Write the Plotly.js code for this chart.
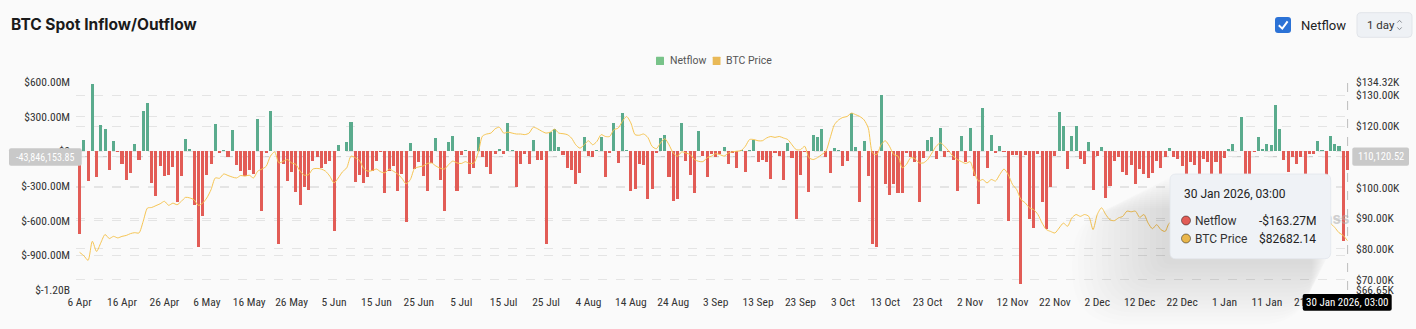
<!DOCTYPE html>
<html><head><meta charset="utf-8">
<script src="https://cdn.plot.ly/plotly-3.0.1.min.js"></script>
<style>html,body{margin:0;padding:0;background:#fafafa;}#chart{width:1416px;height:329px;}</style>
</head><body><div id="chart"></div>
<script>
// ---------------- DATA ----------------
const startDate = '2025-04-06T03:00:00Z';   // first daily bar, one bar per day to 30 Jan 2026
// Daily spot netflow, USD millions
const netflow = [
-715,101,-254,583,-219,231,193,-159,92,-5,
-110,-248,-185,63,-72,346,415,-274,-387,-124,
-211,-205,-138,-441,-216,107,17,-464,-831,-560,
-205,-110,237,-12,9,-52,188,-115,-167,-211,
-162,-196,280,-519,-14,346,5,-805,-110,-254,
-182,-355,-462,-312,-332,-87,-52,-145,-110,-87,
-689,55,5,78,257,-268,-205,-277,-225,-167,
-81,-8,-361,-167,-124,-340,-196,-614,72,-153,
-95,-211,-340,-104,115,-248,-514,84,130,-340,
-29,12,-196,-147,127,-52,-138,-196,-23,20,
-23,242,12,-312,-110,-23,-110,98,-75,-75,
-802,164,193,35,-32,-147,-162,-283,-185,121,
-43,-46,14,127,-225,-17,242,-104,329,14,
-340,-326,-110,-115,-413,-326,-14,113,141,-225,
-433,-413,245,-81,-205,-361,179,-38,-219,-23,
-52,-23,40,-110,-14,-147,12,-182,12,98,
-89,-75,-95,-239,-14,-38,-245,75,-58,-586,
-205,-10,-355,141,127,193,-52,-188,29,12,
-130,-87,329,40,-441,92,-211,-802,-825,490,
-283,-375,-283,-361,-361,-12,-52,-95,-436,-58,
98,121,-69,202,-52,-5,-75,-346,136,-95,
202,-216,-456,375,-147,138,-14,49,-3,-600,
-29,-29,-1148,-29,-586,-666,-23,-436,-672,-312,
-38,337,216,-153,136,222,-66,-110,78,-332,
-43,40,-404,-297,-87,-52,-176,-202,-118,-283,
-153,-196,-231,-188,-87,-147,-52,29,-52,-66,
-124,-260,-89,-115,-240,-66,-95,-230,-95,-250,
-61,20,63,3,294,-220,-220,-3,127,20,
63,58,401,193,-75,-182,-46,-110,-52,-210,
-23,-23,87,12,-220,136,63,49,-773,-163.27
];
// Daily BTC price, USD thousands
const btcPrice = [
78.9,77.8,76.3,82.5,79.2,82.0,84.7,83.4,84.1,83.6,
84.1,84.4,85.0,85.3,85.2,89.0,93.3,93.5,94.1,94.7,
95.5,94.2,94.9,94.4,95.5,96.8,96.6,96.0,94.2,94.9,
96.6,99.3,103.1,103.0,104.4,103.9,103.4,103.1,103.9,103.7,
104.0,103.1,105.3,106.0,106.9,110.2,111.6,108.0,108.5,109.1,
108.0,107.5,105.3,104.0,104.2,106.0,106.2,106.0,105.3,103.7,
101.5,103.1,105.1,106.4,110.2,109.7,108.8,106.2,105.3,105.5,
106.0,105.1,104.8,106.0,105.3,104.4,103.0,101.2,102.6,106.2,
106.7,107.0,107.8,108.0,107.0,106.3,106.0,107.4,108.6,108.0,
107.8,108.4,107.8,108.0,111.3,116.7,117.4,117.7,119.1,119.6,
117.7,118.0,117.7,117.4,117.4,117.2,117.7,119.6,119.1,118.3,
117.7,118.0,119.0,117.7,117.5,117.2,116.1,113.9,112.8,113.9,
115.2,113.9,115.0,117.2,116.6,116.6,118.8,119.3,121.5,123.1,
121.0,117.2,117.0,117.4,116.3,113.4,112.6,114.5,115.9,113.9,
111.2,110.2,111.6,111.2,110.7,109.1,108.5,108.4,109.7,110.2,
111.0,110.7,110.2,111.2,111.6,111.8,112.0,113.4,115.6,115.6,
115.2,115.2,116.1,116.6,116.3,116.6,116.1,115.6,113.9,112.3,
112.3,113.4,109.7,109.1,109.7,110.7,111.8,116.1,120.4,122.0,
122.8,123.1,124.2,123.7,123.1,122.0,119.3,111.2,110.7,113.9,
115.2,113.4,110.7,110.2,106.4,107.5,109.7,109.4,108.0,108.0,
109.1,111.2,113.4,114.5,113.4,111.8,110.2,109.1,108.4,107.8,
108.4,104.8,102.1,102.6,101.5,102.6,102.1,104.2,106.0,104.2,
101.0,99.3,96.1,95.0,93.4,92.8,91.2,88.4,86.3,85.7,
85.2,86.8,88.4,87.4,90.1,91.2,90.6,91.2,90.6,86.3,
91.2,93.4,91.2,89.5,89.2,90.1,90.6,92.3,92.1,92.3,
90.3,91.2,88.4,86.6,87.9,86.3,85.7,88.4,87.6,87.2,
87.9,88.4,87.5,87.1,87.8,87.3,87.9,88.2,87.7,87.5,
88.6,89.0,90.0,91.2,93.6,92.4,91.6,90.9,91.1,90.6,
91.0,91.3,92.6,95.4,96.9,95.6,95.1,95.2,93.6,92.6,
89.6,89.9,89.3,89.6,88.9,88.3,87.0,85.3,84.4,82.68214
];
const leftTickVals  = [600,300,0,-300,-600,-900,-1200];
const leftTickText  = ['$600.00M','$300.00M','$0','$-300.00M','$-600.00M','$-900.00M','$-1.20B'];
const rightTickVals = [66.65,70,80,90,100,110,120,130,134.32];
const rightTickText = ['$66.65K','$70.00K','$80.00K','$90.00K','$100.00K','$110.00K','$120.00K','$130.00K','$134.32K'];
const seriesNames = ['Netflow','BTC Price'];
const chartTitle = 'BTC Spot Inflow/Outflow';
const tooltipTitle = '30 Jan 2026, 03:00';
const tooltipNetflow = '-$163.27M';
const tooltipPrice = '$82682.14';
const crossLeftLabel = '-43,846,153.85';
const crossRightLabel = '110,120.52';
const crossXLabel = '30 Jan 2026, 03:00';
const periodLabel = '1 day';
const watermark = 'coinglass';

// ---------------- BUILD ----------------
const DAY = 864e5;
const base = Date.parse(startDate);
const iso = t => new Date(t).toISOString().slice(0,19).replace('T',' ');
const dates = netflow.map((_, i) => iso(base + i * DAY));
const GREEN = '#5aab8d', RED = '#e25c56', GOLD = '#f6c553';
const NARROW = '"Liberation Sans Narrow", "Roboto Condensed", Roboto, sans-serif';
const UI = 'Roboto, "Noto Sans", sans-serif';

// pixel -> paper helpers (plot area 76..1350 x 82..290)
const L = 76, R = 1350, T = 82, B = 290;
const X = p => (p - L) / (R - L);
const Y = p => (B - p) / (B - T);

function rr(x0, y0, x1, y1, r) {
  return `M ${X(x0+r)},${Y(y0)} L ${X(x1-r)},${Y(y0)} Q ${X(x1)},${Y(y0)} ${X(x1)},${Y(y0+r)} ` +
         `L ${X(x1)},${Y(y1-r)} Q ${X(x1)},${Y(y1)} ${X(x1-r)},${Y(y1)} L ${X(x0+r)},${Y(y1)} ` +
         `Q ${X(x0)},${Y(y1)} ${X(x0)},${Y(y1-r)} L ${X(x0)},${Y(y0+r)} Q ${X(x0)},${Y(y0)} ${X(x0+r)},${Y(y0)} Z`;
}
const P = (path, fill, line, lw, layer) => ({type:'path', xref:'paper', yref:'paper', path,
  fillcolor: fill || 'rgba(0,0,0,0)', line:{color: line || 'rgba(0,0,0,0)', width: lw || 0}, layer: layer || 'above'});
const ann = (text, x, y, xa, size, color, fam) => ({text, x: X(x), y: Y(y), xref:'paper', yref:'paper',
  xanchor: xa, yanchor:'middle', showarrow:false, font:{size, color, family: fam || UI}});

const shapes = [];
// crosshair lines
shapes.push({type:'line', xref:'paper', yref:'paper', x0:X(1347.6), x1:X(1347.6), y0:0, y1:1,
  line:{color:'#bdbdbd', width:1, dash:'dash'}, layer:'below'});
shapes.push({type:'line', xref:'paper', yref:'paper', x0:X(80), x1:X(1352), y0:Y(156.7), y1:Y(156.7),
  line:{color:'#c4c4c4', width:1, dash:'dash'}, layer:'below'});
// tooltip shadow (soft, towards bottom-left)
for (let k = 1; k <= 16; k++) {
  shapes.push(P(rr(1170 - 6*k - 2, 176 + 2*k, 1328 - 1*k, 258.7 + 4*k + 2, 6 + 3*k), 'rgba(0,0,0,0.009)'));
}
// tooltip box
shapes.push(P(rr(1170, 174, 1330.7, 258.7, 6), '#eff2f6', '#e2e6ec', 0.8));
shapes.push({type:'circle', xref:'paper', yref:'paper', x0:X(1181.5), x1:X(1190.5), y0:Y(216), y1:Y(225),
  fillcolor: RED, line:{color:'rgba(0,0,0,0.45)', width:1}, layer:'above'});
shapes.push({type:'circle', xref:'paper', yref:'paper', x0:X(1181.5), x1:X(1190.5), y0:Y(234), y1:Y(243),
  fillcolor: '#e9b64b', line:{color:'rgba(0,0,0,0.45)', width:1}, layer:'above'});
// crosshair labels
shapes.push(P(rr(9, 148.3, 81.7, 165.7, 2), '#c9c9c9'));
shapes.push(P(rr(1352.3, 147.5, 1409, 165.7, 2), '#c9c9c9'));
shapes.push(P(rr(1302.7, 294, 1391.7, 310.7, 2), '#000000'));
// header: checkbox + dropdown
shapes.push(P(rr(1275, 17, 1291, 33, 3), '#2b72d6'));
shapes.push(P(`M ${X(1278.8)},${Y(25.2)} L ${X(1282.3)},${Y(28.6)} L ${X(1287.6)},${Y(21.4)}`, null, '#ffffff', 2));
shapes.push(P(rr(1357, 12.7, 1412, 37.3, 4), '#eef1f5', '#e1e4e9', 1));
shapes.push(P(`M ${X(1397.3)},${Y(22.6)} L ${X(1399.5)},${Y(20.3)} L ${X(1401.7)},${Y(22.6)}`, null, '#8a8f96', 1));
shapes.push(P(`M ${X(1397.3)},${Y(27.4)} L ${X(1399.5)},${Y(29.7)} L ${X(1401.7)},${Y(27.4)}`, null, '#8a8f96', 1));
// legend squares
shapes.push(P(rr(656, 56.7, 664, 65, 0.5), '#78c389'));
shapes.push(P(rr(712.7, 56.7, 720.5, 65, 0.5), '#e9b957'));

const annotations = [
  ann('<b>' + chartTitle + '</b>', 9, 24.5, 'left', 15.5, '#1b1b1b', 'Inter, sans-serif'),
  ann(seriesNames[0], 1299, 25, 'left', 13, '#222'),
  ann(periodLabel, 1364.5, 25, 'left', 11.5, '#333'),
  ann(seriesNames[0], 667.5, 60.8, 'left', 10.5, '#555'),
  ann(seriesNames[1], 724, 60.8, 'left', 10.5, '#555'),
  ann(tooltipTitle, 1182, 194, 'left', 12, '#222'),
  ann(seriesNames[0], 1193, 220.5, 'left', 12, '#333'),
  ann(tooltipNetflow, 1318, 220.5, 'right', 12, '#222'),
  ann(seriesNames[1], 1193, 238.5, 'left', 12, '#333'),
  ann(tooltipPrice, 1318, 238.5, 'right', 12, '#222'),
  ann(crossLeftLabel, 45.3, 157, 'center', 10, '#ffffff', NARROW),
  ann(crossRightLabel, 1380.7, 156.6, 'center', 10.5, '#ffffff', NARROW),
  ann(crossXLabel, 1347.2, 302.4, 'center', 11, '#ffffff', NARROW)
];

const traces = [
  {type:'bar', x: dates, y: netflow, name: seriesNames[0], yaxis:'y',
   marker:{color: netflow.map(v => v >= 0 ? GREEN : RED), line:{width:0}}, width: 0.72 * DAY,
   hoverinfo:'skip', showlegend:false},
  {type:'scatter', mode:'text', x:[iso(base + 299.45 * DAY)], y:[89.2], yaxis:'y2', text:[watermark],
   textposition:'middle left', textfont:{size:15, color:'rgba(170,170,170,0.55)', family:'Inter, sans-serif', weight:700},
   cliponaxis:false, hoverinfo:'skip', showlegend:false},
  {type:'scatter', mode:'lines', x: dates, y: btcPrice, name: seriesNames[1], yaxis:'y2',
   line:{color: GOLD, width:1, shape:'spline', smoothing:0.7}, hoverinfo:'skip', showlegend:false}
];

const tickFont = {family: NARROW, size:11.5, color:'#333'};
const layout = {
  width:1416, height:329, margin:{l:L, r:1416-R, t:T, b:329-B, pad:0},
  paper_bgcolor:'#fafafa', plot_bgcolor:'#fafafa', showlegend:false, hovermode:false, bargap:0,
  font:{family: UI},
  xaxis:{type:'date', range:[iso(base - 0.85*DAY), iso(base + 299.6*DAY)], tick0: iso(base), dtick: 10*DAY,
    tickformat:'%-d %b', showgrid:false, zeroline:false, showline:false, ticks:'', tickfont: tickFont,
    ticklabelstandoff: 3},
  yaxis:{range:[-1200, 600], tickmode:'array', tickvals:leftTickVals, ticktext:leftTickText,
    showgrid:true, gridcolor:'#e4e4e4', griddash:'dash', gridwidth:1, zeroline:false, showline:false,
    ticks:'', tickfont: tickFont, ticklabelstandoff: 5},
  yaxis2:{range:[66.65, 134.32], overlaying:'y', side:'right', tickmode:'array', tickvals:rightTickVals,
    ticktext:rightTickText, showgrid:true, gridcolor:'#e4e4e4', griddash:'dash', gridwidth:1,
    zeroline:false, showline:false, ticks:'', tickfont: tickFont, ticklabelstandoff: 5},
  shapes, annotations
};
Plotly.newPlot('chart', traces, layout, {staticPlot:true, displayModeBar:false});
</script></body></html>
